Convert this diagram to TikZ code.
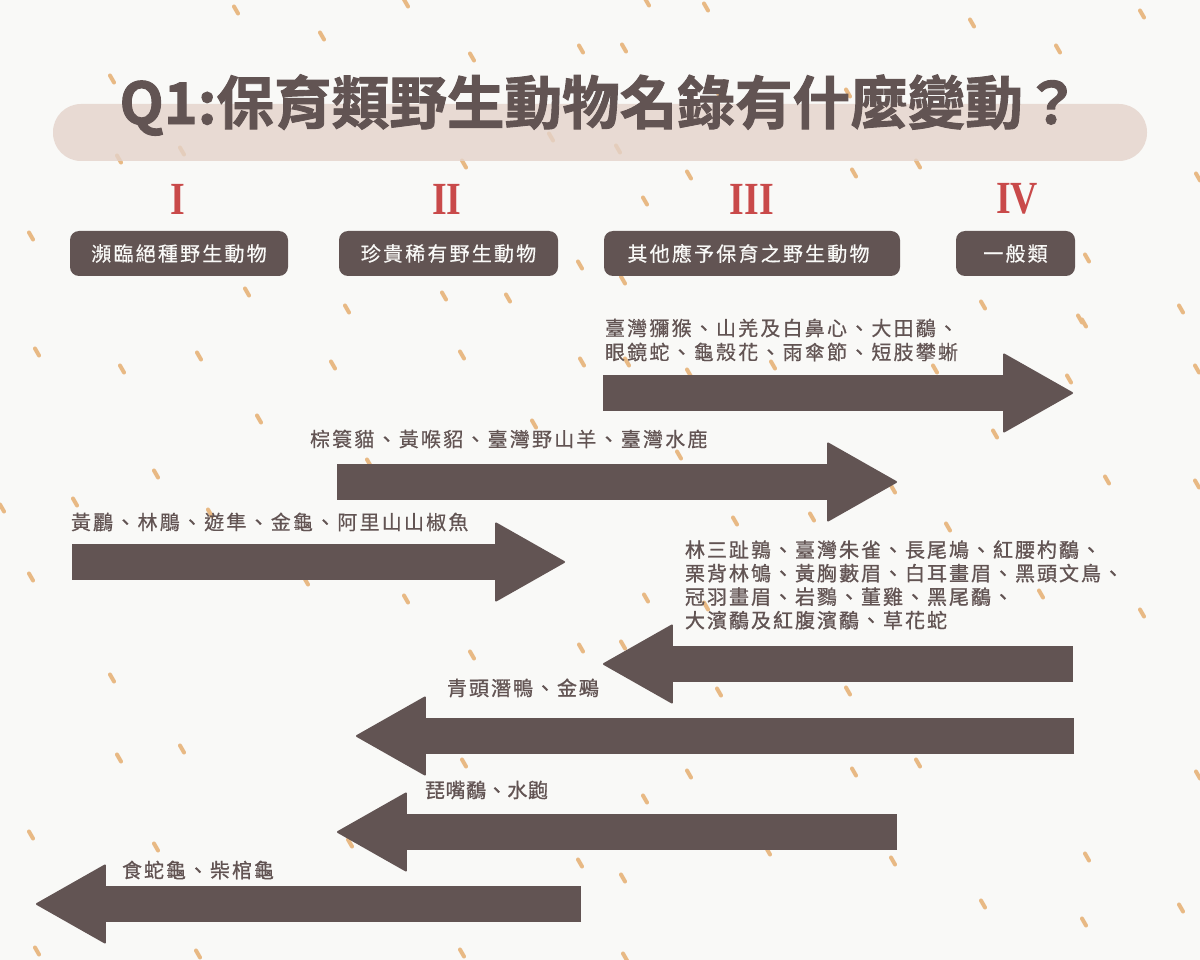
\documentclass[tikz,border=0pt]{standalone}
\usepackage{fontspec}
\usetikzlibrary{arrows.meta}
\newfontfamily\twfont[LetterSpace=11,FakeBold=0.5]{Noto Sans CJK TC}
\newfontfamily\twmedfont[LetterSpace=10,FakeBold=1]{Noto Sans CJK TC}
\newfontfamily\twtightfont[LetterSpace=3,FakeBold=1]{Noto Sans CJK TC}
\newfontfamily\titlefont[FakeBold=1.6]{Noto Sans CJK TC Bold}
\newfontfamily\romanfont[FakeStretch=0.82]{Liberation Serif}
\definecolor{paper}{HTML}{F9F9F7}
\definecolor{cocoa}{HTML}{625453}
\definecolor{blush}{HTML}{E4D3CA}
\definecolor{rust}{HTML}{C94A4A}
\definecolor{grain}{HTML}{E8B984}
\begin{document}
\begin{tikzpicture}[
    x=1pt, y=-1pt,
    every node/.style={inner sep=0pt, outer sep=0pt},
    speck/.style={draw=grain, line width=4pt, line cap=round},
    pill/.style={fill=blush, fill opacity=0.8, rounded corners=28pt, minimum height=57pt, anchor=west},
    level/.style={font=\romanfont\bfseries\fontsize{46}{46}\selectfont, text=rust},
    tag/.style={fill=cocoa, text=paper, rounded corners=9pt, minimum height=45pt, font=\twfont\fontsize{20}{20}\selectfont},
    species/.style={anchor=west, align=left, text=cocoa, font=\twfont\fontsize{20}{24}\selectfont},
    speciesb/.style={anchor=west, align=left, text=cocoa, font=\twmedfont\fontsize{20}{23.5}\selectfont},
    span/.style={draw=cocoa, line width=36pt, -{Triangle[length=71pt, width=80pt, line width=2pt, round]}, color=cocoa}
]
\fill[paper] (0,0) rectangle (1200,960);
\useasboundingbox (0,0) rectangle (1200,960);

% Background grains
\foreach \sx/\sy in {236/10,406/3,322/36,472/57,581/49,112/79,182/151,119/159,551/137,464/164,31/236,
    247/292,444/296,508/298,347/309,580/265,647/2,706/7,972/23,1142/14,1058/49,624/48,618/149,689/175,
    645/201,854/173,918/164,1198/177,1087/258,623/280,983/305,1181/309,719/95,848/93,1080/319,
    37/352,122/369,199/356,333/365,462/355,582/362,259/419,156/474,75/502,2/508,210/513,31/577,306/581,
    406/599,534/424,369/463,1084/323,627/362,773/365,935/369,689/373,1069/379,1197/369,995/434,679/455,
    1107/480,1197/484,893/489,735/521,812/517,948/527,646/598,706/606,1041/594,1142/613,
    472/655,581/648,112/678,182/749,119/758,464/763,31/835,156/847,350/843,580/863,37/951,198/954,
    462/953,623/645,719/692,848/691,918/763,854/772,689/774,1198/775,645/799,768/851,893/861,623/878,
    1087/857,983/904,1181/908,1084/922,625/957}
    \draw[speck] (\sx,\sy) ++(-2,-3.5) -- ++(4,7);

% Title
\node[pill, minimum width=1094pt] (bar) at (53,132.5) {};
\node[anchor=center, text=cocoa, font=\titlefont\fontsize{57.6}{57.6}\selectfont] (title) at (600,105) {Q1:保育類野生動物名錄有什麼變動？};

% Levels
\node[level] (lv1) at (178,199) {I};
\node[level] (lv2) at (447,199) {II};
\node[level] (lv3) at (752,199) {III};
\node[level] (lv4) at (1017,199) {IV};

\node[tag, minimum width=218pt] (tag1) at (179,253.5) {瀕臨絕種野生動物};
\node[tag, minimum width=219pt] (tag2) at (448.5,253.5) {珍貴稀有野生動物};
\node[tag, minimum width=296pt] (tag3) at (752,253.5) {其他應予保育之野生動物\hspace*{7pt}};
\node[tag, minimum width=119pt] (tag4) at (1015.5,253.5) {一般類};

% Upgrades and downgrades
\coordinate (s1) at (603,393);  \coordinate (e1) at (1073,393);
\coordinate (s2) at (337,482);  \coordinate (e2) at (897,482);
\coordinate (s3) at (72,562);   \coordinate (e3) at (565,562);
\coordinate (s4) at (1073,664); \coordinate (e4) at (603,664);
\coordinate (s5) at (1074,736); \coordinate (e5) at (356,736);
\coordinate (s6) at (897,832);  \coordinate (e6) at (337,832);
\coordinate (s7) at (581,904);  \coordinate (e7) at (36,904);
\foreach \i in {1,...,7}
    \draw[span] (s\i) -- (e\i);

% Species
\node[species] (sp1) at (605,340) {臺灣獼猴、山羌及白鼻心、大田鷸、\\眼鏡蛇、龜殼花、雨傘節、短肢攀蜥};
\node[species] (sp2) at (310,439) {棕簑貓、黃喉貂、臺灣野山羊、臺灣水鹿};
\node[species] (sp3) at (71,522) {黃鸝、林鵰、遊隼、金龜、阿里山山椒魚};
\node[speciesb] (sp4) at (685,585) {林三趾鶉、臺灣朱雀、長尾鳩、紅腰杓鷸、\\栗背林鴝、黃胸藪眉、白耳畫眉、黑頭文鳥、\\冠羽畫眉、岩鷚、董雞、黑尾鷸、\\大濱鷸及紅腹濱鷸、草花蛇};
\node[speciesb] (sp5) at (447,688) {青頭潛鴨、金鵐};
\node[speciesb, font=\twtightfont\fontsize{20}{20}\selectfont] (sp6) at (425,790) {琵嘴鷸、水鼩};
\node[speciesb] (sp7) at (122,870) {食蛇龜、柴棺龜};
\end{tikzpicture}
\end{document}
